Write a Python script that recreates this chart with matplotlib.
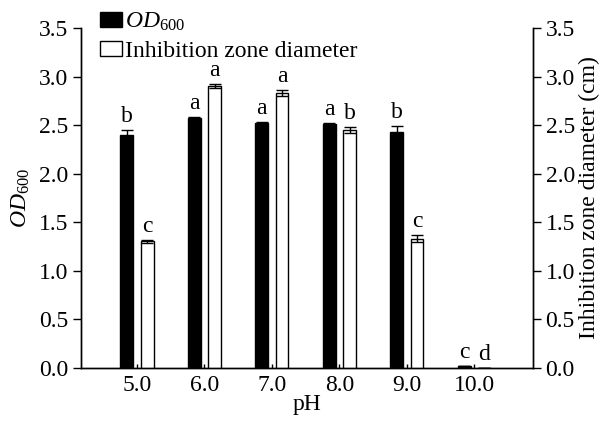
import matplotlib
matplotlib.use("Agg")
import matplotlib.pyplot as plt
import numpy as np
from matplotlib.patches import Patch

plt.rcParams['font.family'] = ['Liberation Serif', 'DejaVu Serif']
plt.rcParams['mathtext.fontset'] = 'custom'
plt.rcParams['mathtext.rm'] = 'Liberation Serif'
plt.rcParams['mathtext.it'] = 'Liberation Serif:italic'

categories = ['5.0', '6.0', '7.0', '8.0', '9.0', '10.0']
od600 = [2.40, 2.57, 2.52, 2.51, 2.43, 0.02]
od600_err = [0.05, 0.01, 0.01, 0.01, 0.06, 0.0]
od600_letters = ['b', 'a', 'a', 'a', 'b', 'c']
zone = [1.30, 2.90, 2.83, 2.45, 1.33, 0.0]
zone_err = [0.02, 0.02, 0.03, 0.03, 0.04, 0.0]
zone_letters = ['c', 'a', 'a', 'b', 'c', 'd']
yticks = [0.0, 0.5, 1.0, 1.5, 2.0, 2.5, 3.0, 3.5]

fs = 17
fig = plt.figure(figsize=(6.03, 4.22), dpi=100)
ax = fig.add_axes([0.1343, 0.129, 0.884 - 0.1343, 0.9336 - 0.129])
ax2 = ax.twinx()

x = np.arange(len(categories))
w = 0.19
off = 0.15
ekw = dict(ecolor='black', elinewidth=1.0, capsize=4.5, capthick=1.0)
ax.bar(x - off, od600, w, color='black', edgecolor='black', linewidth=1.0,
       yerr=od600_err, error_kw=ekw)
ax2.bar(x + off, zone, w, color='white', edgecolor='black', linewidth=1.0,
        yerr=zone_err, error_kw=ekw)

for i in range(len(categories)):
    ax.text(x[i] - off, od600[i] + od600_err[i] + 0.03, od600_letters[i],
            ha='center', va='bottom', fontsize=fs)
    ax2.text(x[i] + off, zone[i] + zone_err[i] + 0.03, zone_letters[i],
             ha='center', va='bottom', fontsize=fs)

for a in (ax, ax2):
    a.set_ylim(0, 3.5)
    a.set_yticks(yticks)
    a.set_yticklabels(['%.1f' % v for v in yticks])
    a.spines['top'].set_visible(False)
    a.tick_params(axis='y', direction='out', length=6, width=1.0, labelsize=fs, pad=3)
ax.set_xlim(-0.83, 5.87)
ax.set_xticks(x)
ax.set_xticklabels(categories)
ax.tick_params(axis='x', direction='in', length=3, width=1.0, labelsize=fs, pad=5)
for s in ['left', 'bottom', 'right']:
    ax.spines[s].set_linewidth(1.0)
    ax2.spines[s].set_linewidth(1.0)

ax.set_xlabel('pH', fontsize=fs, labelpad=-1)
ax.set_ylabel(r'$\mathit{OD}_{\mathrm{600}}$', fontsize=fs, labelpad=5)
ax2.set_ylabel('Inhibition zone diameter (cm)', fontsize=fs, labelpad=3)

handles = [Patch(facecolor='black', edgecolor='black'),
           Patch(facecolor='white', edgecolor='black')]
labels = [r'$\mathit{OD}_{\mathrm{600}}$', 'Inhibition zone diameter']
fig.legend(handles, labels, loc='upper left', bbox_to_anchor=(0.151, 0.996),
           frameon=False, fontsize=fs, handlelength=0.9, handleheight=0.6,
           handletextpad=0.15, labelspacing=0.3, borderaxespad=0.0)

fig.savefig('out.png', dpi=100)
